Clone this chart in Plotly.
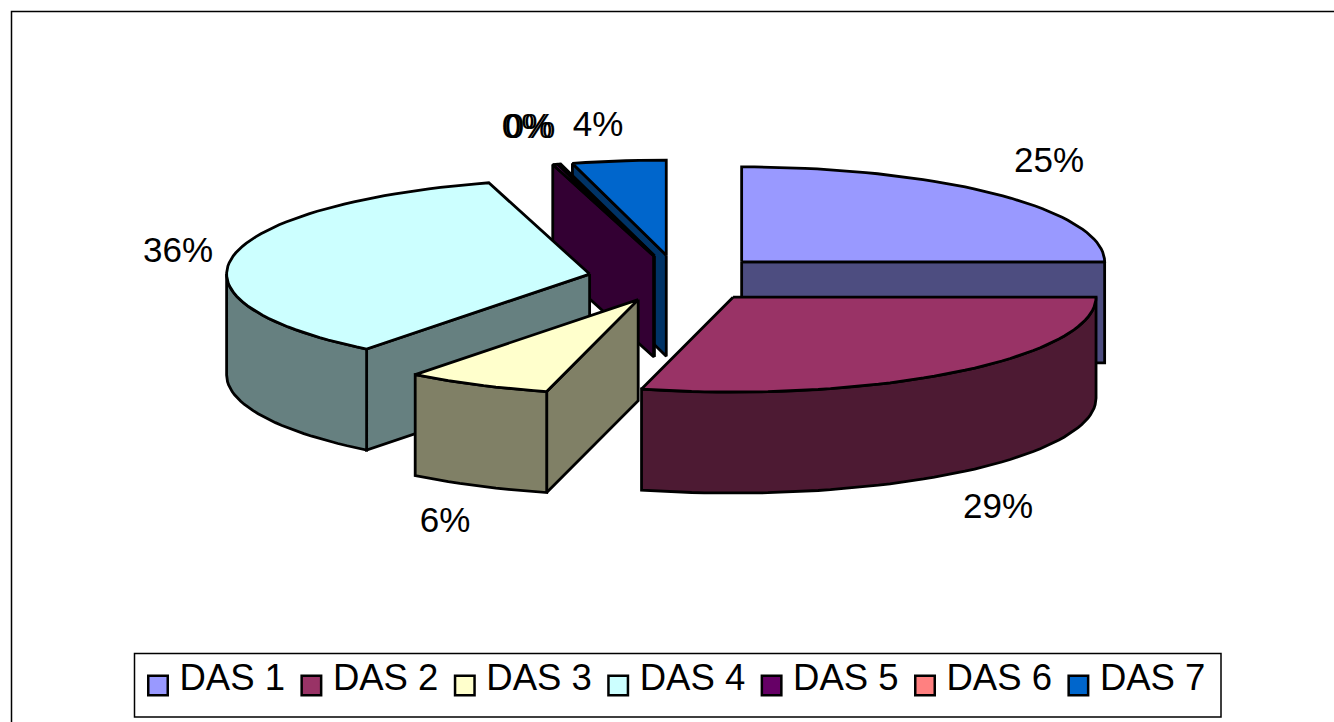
import math
import plotly.graph_objects as go

categories = ["DAS 1", "DAS 2", "DAS 3", "DAS 4", "DAS 5", "DAS 6", "DAS 7"]
values = [25.0, 28.8, 6.2, 35.8, 0.2, 0.1, 3.9]
top_colors = ["#9999FF", "#993366", "#FFFFCC", "#CCFFFF", "#660066", "#FF8080", "#0066CC"]
side_colors = ["#4D4D80", "#4D1A33", "#808066", "#668080", "#330033", "#804040", "#003366"]
label_x = [1049, 998, 445, 178, 527, 530, 598]
label_y = [163, 509, 523, 253, 129, 129, 127]

CX, CY = 678, 278.5    # pie centre on the canvas
RX, RY = 363, 95       # ellipse radii
DEPTH = 101            # pie thickness
EXPLODE = 90           # explosion distance along the mid-angle
WARP = 2.0             # degrees of angular distortion from the 3D view
DRAW_ORDER = [6, 5, 4, 0, 3, 2, 1]
LINE = dict(color="black", width=2.8)
LEG_SWATCH_X0, LEG_TEXT_X0, LEG_STEP = 158, 179.5, 153.4
LEG_SWATCH_Y, LEG_TEXT_Y = 685.5, 681

total = sum(values)
fig = go.Figure()


def view_angle(pct):
    t = pct / total * 360
    return t + WARP * math.sin(math.radians(2 * t))


def pt(ax, ay, deg):
    r = math.radians(deg)
    return ax + RX * math.sin(r), ay - RY * math.cos(r)


def add_poly(xs, ys, color):
    fig.add_trace(go.Scatter(x=xs + xs[:1], y=ys + ys[:1], mode="lines", fill="toself",
                             fillcolor=color, line=LINE, hoverinfo="skip", showlegend=False))


def arc(ax, ay, a, b):
    n = max(2, int(abs(b - a) / 2) + 1)
    pts = [pt(ax, ay, a + (b - a) * i / (n - 1)) for i in range(n)]
    return [p[0] for p in pts], [p[1] for p in pts]


starts, acc = [], 0.0
for v in values:
    starts.append(acc)
    acc += v

for i in DRAW_ORDER:
    a = view_angle(starts[i])
    b = view_angle(starts[i] + values[i])
    mid = math.radians((a + b) / 2)
    ax = CX + EXPLODE * math.sin(mid)
    ay = CY - EXPLODE * (RY / RX) * math.cos(mid)
    # end radial wall
    if math.sin(math.radians(b)) > 1e-6:
        px, py = pt(ax, ay, b)
        add_poly([ax, px, px, ax], [ay, py, py + DEPTH, ay + DEPTH], side_colors[i])
    # start radial wall
    if math.sin(math.radians(a)) < -1e-6:
        px, py = pt(ax, ay, a)
        add_poly([ax, px, px, ax], [ay, py, py + DEPTH, ay + DEPTH], side_colors[i])
    # front rim
    ra, rb = max(a, 90), min(b, 270)
    if rb > ra:
        xs, ys = arc(ax, ay, ra, rb)
        add_poly(xs + xs[::-1], ys + [y + DEPTH for y in ys[::-1]], side_colors[i])
    # top face
    xs, ys = arc(ax, ay, a, b)
    add_poly([ax] + xs, [ay] + ys, top_colors[i])

# percentage labels
fig.add_trace(go.Scatter(x=label_x, y=label_y, mode="text",
                         text=[f"{round(v / total * 100)}%" for v in values],
                         textposition="middle center",
                         textfont=dict(family="Liberation Sans", size=35, color="black"),
                         hoverinfo="skip", showlegend=False))

# legend: swatches and names
n = len(categories)
fig.add_trace(go.Scatter(x=[LEG_SWATCH_X0 + LEG_STEP * i for i in range(n)], y=[LEG_SWATCH_Y] * n,
                         mode="markers", hoverinfo="skip", showlegend=False,
                         marker=dict(symbol="square", size=19.5, color=top_colors,
                                     line=dict(color="black", width=2.5))))
fig.add_trace(go.Scatter(x=[LEG_TEXT_X0 + LEG_STEP * i for i in range(n)], y=[LEG_TEXT_Y] * n,
                         mode="text", text=categories, textposition="middle right",
                         textfont=dict(family="Liberation Sans", size=36.5, color="black"),
                         hoverinfo="skip", showlegend=False))

fig.update_layout(
    width=1334, height=722, margin=dict(l=0, r=0, t=0, b=0, autoexpand=False),
    paper_bgcolor="white", plot_bgcolor="white", showlegend=False,
    xaxis=dict(range=[0, 1334], visible=False, fixedrange=True),
    yaxis=dict(range=[722, 0], visible=False, fixedrange=True),
    shapes=[dict(type="rect", xref="x", yref="y", x0=11.5, y0=11.5, x1=1345, y1=735,
                 line=dict(color="black", width=1.5), layer="below"),
            dict(type="rect", xref="x", yref="y", x0=134.5, y0=653.5, x1=1221, y1=717,
                 line=dict(color="black", width=1.5), fillcolor="white", layer="below")],
)
fig.write_html("out.html", config={"displayModeBar": False},
               post_script="document.body.style.margin='0';document.body.style.overflow='hidden';")
